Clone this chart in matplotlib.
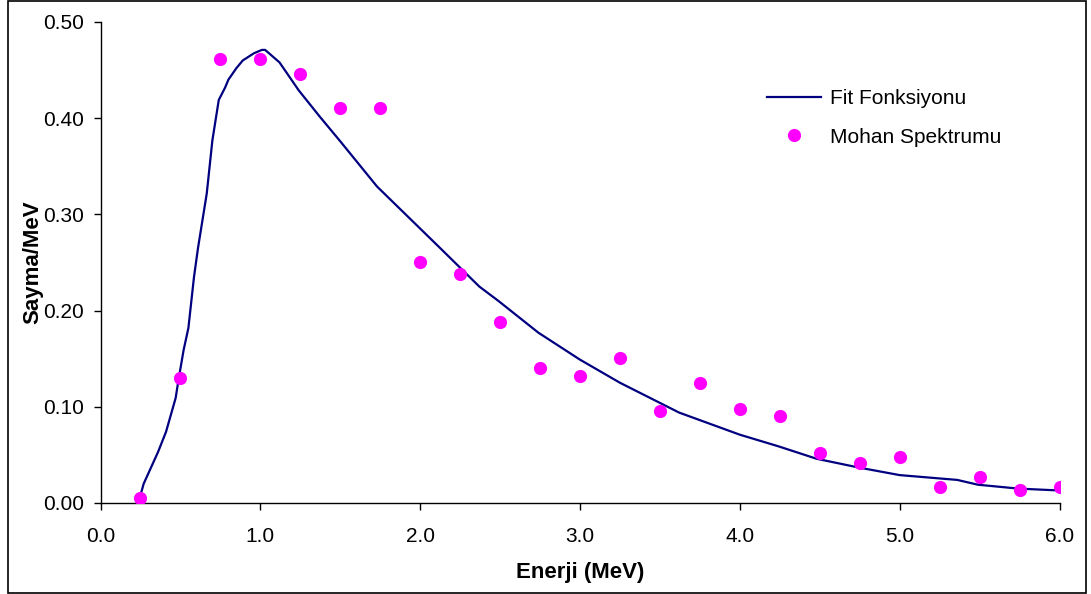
import matplotlib
matplotlib.use("Agg")
import matplotlib.pyplot as plt
from matplotlib.patches import Rectangle
from matplotlib.ticker import FormatStrFormatter, MultipleLocator

plt.rcParams["font.family"] = ["Liberation Sans", "DejaVu Sans"]

# Mohan spectrum points
mohan_x = [0.25, 0.50, 0.75, 1.00, 1.25, 1.50, 1.75, 2.00, 2.25, 2.50, 2.75, 3.00,
           3.25, 3.50, 3.75, 4.00, 4.25, 4.50, 4.75, 5.00, 5.25, 5.50, 5.75, 6.00]
mohan_y = [0.005, 0.130, 0.462, 0.462, 0.446, 0.411, 0.411, 0.251, 0.238, 0.188, 0.140, 0.132,
           0.151, 0.096, 0.125, 0.098, 0.090, 0.052, 0.042, 0.048, 0.017, 0.027, 0.013, 0.017]

# fit function
fit_x = [0.25, 0.27, 0.36, 0.41, 0.47, 0.49, 0.52, 0.55, 0.585, 0.61, 0.665, 0.70,
         0.74, 0.78, 0.80, 0.85, 0.89, 0.96, 1.01, 1.03, 1.12, 1.24, 1.37, 1.50,
         1.73, 2.125, 2.37, 2.49, 2.74, 3.00, 3.25, 3.62, 4.00, 4.24, 4.48, 4.74,
         5.00, 5.36, 5.49, 5.74, 6.00]
fit_y = [0.008, 0.020, 0.053, 0.074, 0.109, 0.130, 0.159, 0.182, 0.235, 0.265, 0.322, 0.377,
         0.419, 0.432, 0.440, 0.452, 0.460, 0.4675, 0.471, 0.471, 0.458, 0.429, 0.402, 0.376,
         0.329, 0.265, 0.225, 0.210, 0.177, 0.149, 0.125, 0.094, 0.071, 0.059, 0.046, 0.037,
         0.029, 0.024, 0.019, 0.015, 0.013]

W, H = 1091, 594
fig = plt.figure(figsize=(W / 100, H / 100), dpi=100)
fig.patch.set_facecolor("white")
fig.patches.append(Rectangle((8 / W, 1 / H), (1086 - 8) / W, (593 - 1) / H,
                             transform=fig.transFigure, fill=False,
                             edgecolor="black", linewidth=1.2))

ax = fig.add_axes([100.5 / W, (H - 503) / H, 959 / W, 481 / H])
ax.plot(fit_x, fit_y, color="#000080", linewidth=1.6, label="Fit Fonksiyonu", zorder=2)
ax.plot(mohan_x, mohan_y, linestyle="none", marker="o", markersize=9.5,
        color="#FF00FF", markeredgewidth=0, label="Mohan Spektrumu", zorder=3)

ax.set_xlim(0, 6)
ax.set_ylim(0, 0.5)
ax.xaxis.set_major_locator(MultipleLocator(1.0))
ax.yaxis.set_major_locator(MultipleLocator(0.1))
ax.xaxis.set_major_formatter(FormatStrFormatter("%.1f"))
ax.yaxis.set_major_formatter(FormatStrFormatter("%.2f"))

for side in ["top", "right"]:
    ax.spines[side].set_visible(False)
for side in ["left", "bottom"]:
    ax.spines[side].set_linewidth(1.0)
    ax.spines[side].set_color("black")

ax.tick_params(axis="x", direction="out", length=5, width=1, pad=12, labelsize=15)
ax.tick_params(axis="y", direction="out", length=5, width=1, pad=7, labelsize=15)

ax.set_xlabel("Enerji (MeV)", fontsize=16, fontweight="bold")
ax.set_ylabel("Sayma/MeV", fontsize=16, fontweight="bold")
ax.xaxis.set_label_coords(0.5, -0.122)
ax.yaxis.set_label_coords(-0.06, 0.5)

ax.legend(loc="upper left", bbox_to_anchor=(0.675, 0.9), frameon=False,
          fontsize=15, handlelength=2.6, handletextpad=0.45, labelspacing=0.95)

fig.savefig("out.png", dpi=100, facecolor="white")
